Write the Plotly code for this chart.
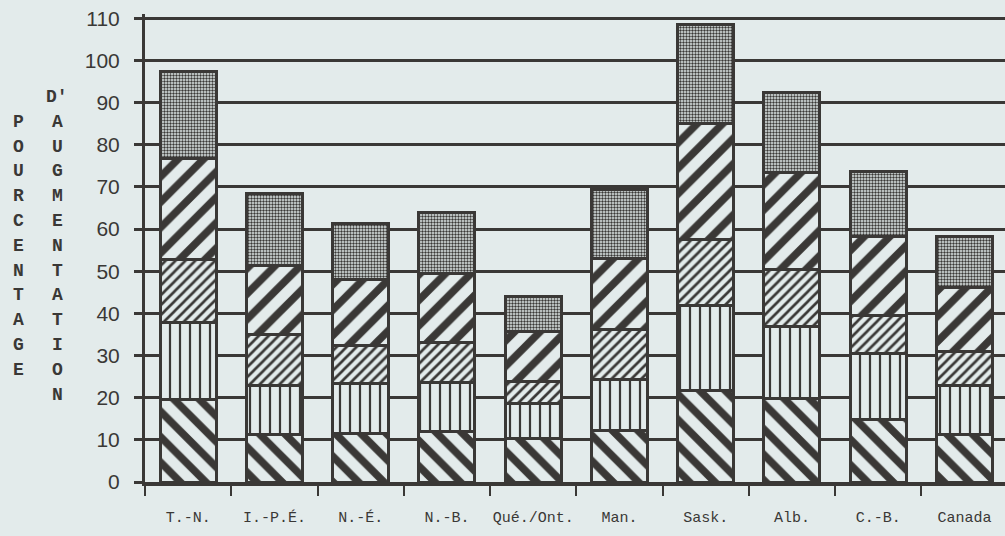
import plotly.graph_objects as go

# Provinces / regions on the x axis
categories = ["T.-N.", "I.-P.É.", "N.-É.", "N.-B.", "Qué./Ont.",
              "Man.", "Sask.", "Alb.", "C.-B.", "Canada"]

# Stacked components (percentage points), bottom to top
seg1 = [19.5, 11.2, 11.6, 11.9, 10.4, 12.2, 21.8, 19.9, 14.9, 11.3]
seg2 = [18.3, 11.8, 11.7, 11.7, 8.3, 12.0, 20.0, 17.0, 15.6, 11.7]
seg3 = [14.9, 12.1, 9.0, 9.5, 5.1, 11.9, 15.8, 13.4, 8.9, 7.9]
seg4 = [24.1, 16.2, 15.8, 16.4, 11.9, 16.8, 27.4, 23.0, 18.8, 15.3]
seg5 = [20.6, 17.1, 13.1, 14.5, 8.3, 16.4, 23.5, 19.0, 15.5, 12.0]

y_ticks = list(range(0, 111, 10))

left_title = "POURCENTAGE"
right_title = ["D'", "A", "U", "G", "M", "E", "N", "T", "A", "T", "I", "O", "N"]

BG = "#e3ebeb"
INK = "#3a3836"

# (values, pattern shape, tile size, solidity)
layers = [
    (seg1, "\\", 18, 0.42),
    (seg2, "|", 10, 0.22),
    (seg3, "/", 7, 0.38),
    (seg4, "/", 18, 0.42),
    (seg5, ".", 3, 0.5),
]

fig = go.Figure()
for i, (vals, shape, size, sol) in enumerate(layers):
    fig.add_trace(go.Bar(
        x=categories, y=vals, name=f"s{i+1}",
        marker=dict(
            color=BG,
            line=dict(color=INK, width=3),
            pattern=dict(shape=shape, size=size, solidity=sol,
                         fgcolor=INK, bgcolor=BG, fillmode="replace", fgopacity=1),
        ),
        showlegend=False,
    ))

# plot area in pixels: x 145..1005, y 14..482
L, R, T, B = 145, 0, 14, 54
W, H = 1005 - L - R, 536 - T - B

def px_x(px):
    return (px - L) / W

def px_y(py):
    return (536 - B - py) / H

MONO = "Liberation Mono, Courier New, monospace"
annotations = []
row0, step = 97, 24.8
for k, ch in enumerate(right_title):
    annotations.append(dict(
        x=px_x(57), y=px_y(row0 + step * k), xref="paper", yref="paper",
        text=f"<b>{ch}</b>", showarrow=False, xanchor="center", yanchor="middle",
        font=dict(family=MONO, size=18, color=INK),
    ))
for k, ch in enumerate(left_title):
    annotations.append(dict(
        x=px_x(18), y=px_y(row0 + step * (k + 1)), xref="paper", yref="paper",
        text=f"<b>{ch}</b>", showarrow=False, xanchor="center", yanchor="middle",
        font=dict(family=MONO, size=18, color=INK),
    ))

fig.update_layout(
    width=1005, height=536,
    margin=dict(l=L, r=R, t=T, b=B, pad=0, autoexpand=False),
    paper_bgcolor=BG, plot_bgcolor=BG,
    barmode="stack", bargap=0.35,
    annotations=annotations,
)

fig.update_xaxes(
    type="category", range=[-0.5, 9.47], automargin=False,
    showgrid=False, showline=True, linecolor=INK, linewidth=4,
    ticks="outside", tickson="boundaries", ticklen=10, tickwidth=2, tickcolor=INK,
    tickangle=0,
    tickfont=dict(family=MONO, size=15, color=INK),
    ticklabelstandoff=18,
    zeroline=False,
)
fig.update_yaxes(
    range=[0, 111], tickvals=y_ticks, automargin=False,
    showgrid=True, gridcolor=INK, gridwidth=3,
    showline=True, linecolor=INK, linewidth=3,
    ticks="outside", ticklen=8, tickwidth=3, tickcolor=INK,
    tickfont=dict(family="Liberation Sans, Arial, sans-serif", size=21, color=INK),
    ticklabelstandoff=10,
    zeroline=False,
)

fig.write_html("out.html")
